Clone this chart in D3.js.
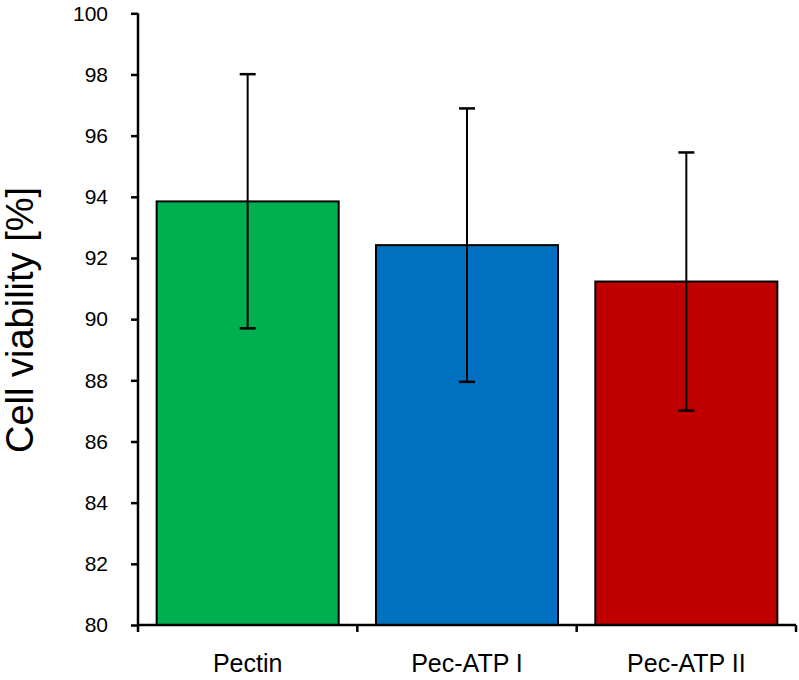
<!DOCTYPE html>
<html><head><meta charset="utf-8">
<script src="https://cdn.jsdelivr.net/npm/d3@7"></script>
<style>body{margin:0;background:#fff;} svg{display:block;}</style>
</head><body>
<script>
const categories = ["Pectin", "Pec-ATP I", "Pec-ATP II"];
const values = [93.85, 92.42, 91.23];
const errUpper = [98.01, 96.89, 95.45];
const errLower = [89.70, 87.95, 87.01];
const colors = ["#00B050", "#0070C0", "#C00000"];
const yTicks = [80, 82, 84, 86, 88, 90, 92, 94, 96, 98, 100];
const yLabel = "Cell viability [%]";

const W = 799, H = 680;
const svg = d3.select("body").append("svg").attr("width", W).attr("height", H);
const mLeft = 138, mRight = 796, mTop = 13.3, mBottom = 625;
const font = "Liberation Sans, Arial, sans-serif";

const y = d3.scaleLinear().domain([80, 100]).range([mBottom, mTop]);
const x = d3.scaleBand().domain(categories).range([mLeft, mRight]).paddingInner(0.17).paddingOuter(0.085);

// bars
svg.selectAll("rect.bar").data(categories).join("rect")
  .attr("x", d => x(d)).attr("y", (d, i) => y(values[i]))
  .attr("width", x.bandwidth()).attr("height", (d, i) => y(80) - y(values[i]))
  .attr("fill", (d, i) => colors[i]).attr("stroke", "#000").attr("stroke-width", 2);

// error bars
const cx = d => x(d) + x.bandwidth() / 2;
svg.selectAll("line.err").data(categories).join("line")
  .attr("x1", cx).attr("x2", cx)
  .attr("y1", (d, i) => y(errUpper[i])).attr("y2", (d, i) => y(errLower[i]))
  .attr("stroke", "#000").attr("stroke-width", 2);
[errUpper, errLower].forEach(arr => {
  svg.selectAll(null).data(categories).join("line")
    .attr("x1", d => cx(d) - 8).attr("x2", d => cx(d) + 8)
    .attr("y1", (d, i) => y(arr[i])).attr("y2", (d, i) => y(arr[i]))
    .attr("stroke", "#000").attr("stroke-width", 2.5);
});

// y axis
const yAxis = svg.append("g").attr("transform", `translate(${mLeft},0)`)
  .call(d3.axisLeft(y).tickValues(yTicks).tickSize(7).tickPadding(23));
yAxis.select(".domain").attr("stroke", "#000").attr("stroke-width", 2.5).attr("d", `M0,${mBottom}V${mTop}`);
yAxis.selectAll(".tick line").attr("stroke", "#000").attr("stroke-width", 2.5);
yAxis.selectAll(".tick text").attr("font-family", font)
  .attr("font-size", 21).attr("fill", "#000");

// x axis line and boundary ticks
svg.append("line").attr("x1", mLeft).attr("x2", mRight).attr("y1", mBottom).attr("y2", mBottom)
  .attr("stroke", "#000").attr("stroke-width", 2.5);
const boundaries = d3.range(categories.length + 1).map(i => mLeft + i * x.step());
svg.selectAll("line.xt").data(boundaries).join("line")
  .attr("x1", d => d).attr("x2", d => d).attr("y1", mBottom).attr("y2", mBottom + 7)
  .attr("stroke", "#000").attr("stroke-width", 2.5);
svg.selectAll("text.xl").data(categories).join("text")
  .attr("x", cx).attr("y", 672).attr("text-anchor", "middle")
  .attr("font-family", font).attr("font-size", 25).attr("fill", "#000")
  .text(d => d);

// y label
svg.append("text").attr("transform", "translate(33,320) rotate(-90)")
  .attr("text-anchor", "middle")
  .attr("font-family", font).attr("font-size", 38).attr("fill", "#000")
  .text(yLabel);
</script>
</body></html>
